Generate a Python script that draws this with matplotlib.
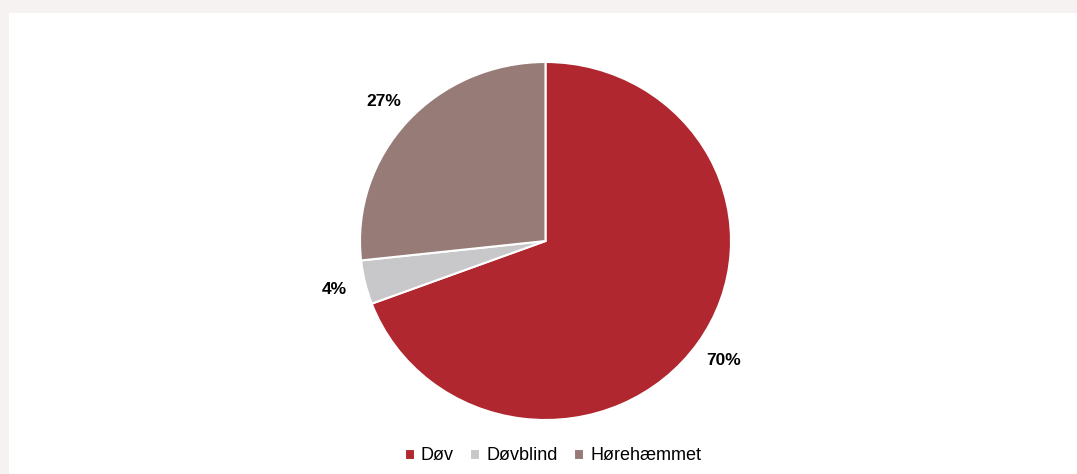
import matplotlib.pyplot as plt
from matplotlib.patches import Rectangle

plt.rcParams['font.family'] = ['Liberation Sans', 'DejaVu Sans']

# Fordeling af gruppen (procent)
categories = ['Døv', 'Døvblind', 'Hørehæmmet']
shares = [70, 4, 27]
colors = ['#B0272F', '#C8C8CA', '#967B77']

W, H = 1077, 474
fig = plt.figure(figsize=(W / 100, H / 100), dpi=100, facecolor='#F6F2F1')

# white plot area inside the grey frame
fig.patches.append(Rectangle((9 / W, 0), 1, 1 - 13 / H, transform=fig.transFigure,
                             facecolor='white', edgecolor='none', zorder=-1))

# pie slot in pixels: centre (545.5, 241), radii 185.5 x 179
cx, cy, rx, ry = 545.5, 241, 185.5, 179
ax = fig.add_axes([(cx - rx) / W, (H - cy - ry) / H, 2 * rx / W, 2 * ry / H])
ax.set_zorder(2)
ax.set_facecolor('none')

wedges, texts, autotexts = ax.pie(
    shares, colors=colors, startangle=90, counterclock=False,
    autopct=lambda p: f'{p * sum(shares) / 100:.0f}%', pctdistance=1.17,
    wedgeprops=dict(edgecolor='white', linewidth=1.5),
    textprops=dict(fontsize=12.5, fontweight='bold', color='black'))
ax.set_aspect('auto')
ax.set_xlim(-1, 1)
ax.set_ylim(-1, 1)
ax.axis('off')

leg = fig.legend(wedges, categories, loc='center', bbox_to_anchor=(553 / W, 1 - 456 / H),
                 ncol=3, frameon=False, fontsize=13, handlelength=0.55, handleheight=0.55,
                 handletextpad=0.35, columnspacing=0.9)
leg.set_zorder(3)

fig.savefig('out.png', dpi=100, facecolor=fig.get_facecolor())
